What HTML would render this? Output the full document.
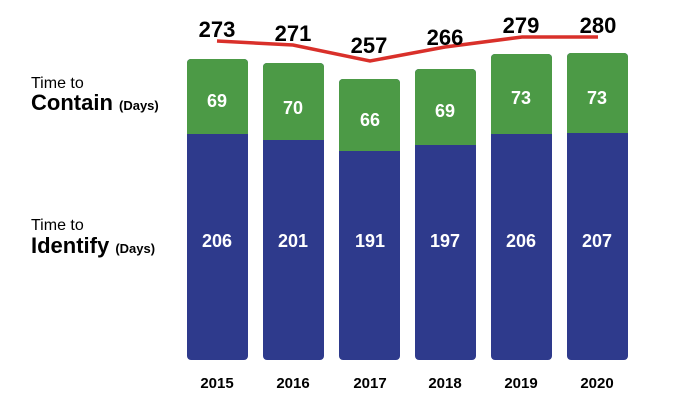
<html><body style="margin:0;background:#fff">
<svg width="698" height="420" xmlns="http://www.w3.org/2000/svg" font-family="Liberation Sans, Arial, sans-serif" font-weight="bold">
<g>
<rect x="187" y="59" width="61" height="301" rx="4" fill="#2e3a8c"/><rect x="187" y="59" width="61" height="75" rx="4" fill="#4c9a46"/><rect x="187" y="120" width="61" height="14" fill="#4c9a46"/>
<rect x="263" y="63" width="61" height="297" rx="4" fill="#2e3a8c"/><rect x="263" y="63" width="61" height="77" rx="4" fill="#4c9a46"/><rect x="263" y="126" width="61" height="14" fill="#4c9a46"/>
<rect x="339" y="79" width="61" height="281" rx="4" fill="#2e3a8c"/><rect x="339" y="79" width="61" height="72" rx="4" fill="#4c9a46"/><rect x="339" y="137" width="61" height="14" fill="#4c9a46"/>
<rect x="415" y="69" width="61" height="291" rx="4" fill="#2e3a8c"/><rect x="415" y="69" width="61" height="76" rx="4" fill="#4c9a46"/><rect x="415" y="131" width="61" height="14" fill="#4c9a46"/>
<rect x="491" y="54" width="61" height="306" rx="4" fill="#2e3a8c"/><rect x="491" y="54" width="61" height="80" rx="4" fill="#4c9a46"/><rect x="491" y="120" width="61" height="14" fill="#4c9a46"/>
<rect x="567" y="53" width="61" height="307" rx="4" fill="#2e3a8c"/><rect x="567" y="53" width="61" height="80" rx="4" fill="#4c9a46"/><rect x="567" y="119" width="61" height="14" fill="#4c9a46"/>
</g>
<polyline points="217,41 293,45 370,61 445,47 522,37 598,37" fill="none" stroke="#d9302a" stroke-width="3.5"/>
<g fill="#fff" font-size="18" text-anchor="middle">
<text x="217" y="107">69</text><text x="293" y="114">70</text><text x="370" y="126">66</text><text x="445" y="117">69</text><text x="521" y="104">73</text><text x="597" y="104">73</text>
<text x="217" y="247">206</text><text x="293" y="247">201</text><text x="370" y="247">191</text><text x="445" y="247">197</text><text x="521" y="247">206</text><text x="597" y="247">207</text>
</g>
<g fill="#000" font-size="22" text-anchor="middle">
<text x="217" y="37">273</text><text x="293" y="41">271</text><text x="369" y="53">257</text><text x="445" y="45">266</text><text x="521" y="33">279</text><text x="598" y="33">280</text>
</g>
<g fill="#000" font-size="15" text-anchor="middle">
<text x="217" y="388">2015</text><text x="293" y="388">2016</text><text x="370" y="388">2017</text><text x="445" y="388">2018</text><text x="521" y="388">2019</text><text x="597" y="388">2020</text>
</g>
<g fill="#000">
<text x="31" y="88" font-size="16" font-weight="normal">Time to</text>
<text x="31" y="110" font-size="22">Contain <tspan font-size="13">(Days)</tspan></text>
<text x="31" y="230" font-size="16" font-weight="normal">Time to</text>
<text x="31" y="253" font-size="22">Identify <tspan font-size="13">(Days)</tspan></text>
</g>
</svg>
</body></html>
